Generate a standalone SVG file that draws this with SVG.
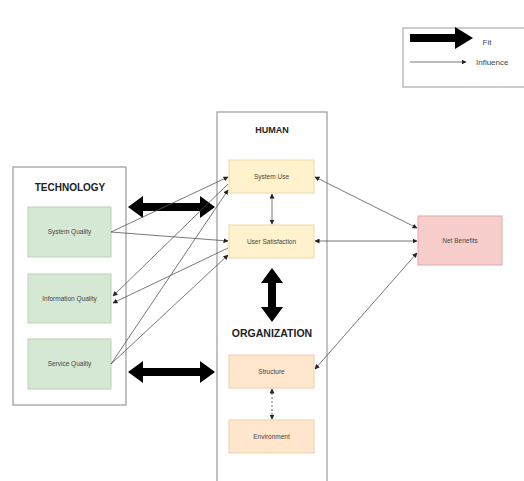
<svg xmlns="http://www.w3.org/2000/svg" width="524" height="481" viewBox="0 0 524 481">
<defs>
<marker id="ah" viewBox="0 0 10 10" refX="9" refY="5" markerWidth="5" markerHeight="5" orient="auto-start-reverse" markerUnits="userSpaceOnUse">
<path d="M0,0 L10,5 L0,10 z" fill="#222"/>
</marker>
<style>
.cont{fill:#fff;stroke:#999;stroke-width:1.2}
.tech{fill:#d5e8d4;stroke:#b9d3b4;stroke-width:1}
.hum{fill:#fff2cc;stroke:#eadba8;stroke-width:1}
.org{fill:#ffe6cc;stroke:#eccfa8;stroke-width:1}
.net{fill:#f8cecc;stroke:#dcaaa8;stroke-width:1}
.lbl{font-family:"Liberation Sans",Arial,sans-serif;font-size:6.5px;fill:#444;text-anchor:middle}
.ttl{font-family:"Liberation Sans",Arial,sans-serif;font-weight:bold;fill:#222;text-anchor:middle}
.ln{stroke:#555;stroke-width:0.8;fill:none}
.thick{fill:#000}
</style>
</defs>
<rect width="524" height="481" fill="#fff"/>

<g id="legend">
<rect x="403" y="28" width="130" height="59" fill="#fff" stroke="#999" stroke-width="1"/>
<polygon class="thick" points="410,34 455,34 455,27 473,38 455,49 455,42 410,42"/>
<text class="lbl" x="487" y="45" style="font-size:8px">Fit</text>
<line class="ln" x1="410" y1="62" x2="466" y2="62" marker-end="url(#ah)"/>
<text class="lbl" x="476" y="65" style="font-size:8px;text-anchor:start">Influence</text>
</g>

<g id="technology">
<rect class="cont" x="13" y="167" width="113" height="238"/>
<text class="ttl" x="70" y="191" font-size="10">TECHNOLOGY</text>
</g>
<g id="system-quality">
<rect class="tech" x="28" y="207" width="83" height="50"/>
<text class="lbl" x="69.5" y="234">System Quality</text>
</g>
<g id="information-quality">
<rect class="tech" x="28" y="274" width="83" height="49"/>
<text class="lbl" x="69.5" y="301">Information Quality</text>
</g>
<g id="service-quality">
<rect class="tech" x="28" y="339" width="83" height="50"/>
<text class="lbl" x="69.5" y="366">Service Quality</text>
</g>

<g id="human-organization">
<rect class="cont" x="217" y="112" width="110" height="375"/>
<text class="ttl" x="272" y="133" font-size="9">HUMAN</text>
<text class="ttl" x="272" y="337" font-size="10.5">ORGANIZATION</text>
</g>
<g id="system-use">
<rect class="hum" x="229" y="160" width="85" height="33"/>
<text class="lbl" x="271.5" y="179">System Use</text>
</g>
<g id="user-satisfaction">
<rect class="hum" x="229" y="225" width="85" height="33"/>
<text class="lbl" x="271.5" y="244">User Satisfaction</text>
</g>
<g id="structure">
<rect class="org" x="229" y="355" width="85" height="33"/>
<text class="lbl" x="271.5" y="374">Structure</text>
</g>
<g id="environment">
<rect class="org" x="229" y="420" width="85" height="33"/>
<text class="lbl" x="271.5" y="439">Environment</text>
</g>
<g id="net-benefits">
<rect class="net" x="418" y="216" width="84" height="49"/>
<text class="lbl" x="460" y="243">Net Benefits</text>
</g>

<g id="connectors">
<polygon class="thick" points="128,207 143,196 143,203 200,203 200,196 215,207 200,218 200,211 143,211 143,218"/>
<polygon class="thick" points="128,372 143,361 143,368 200,368 200,361 215,372 200,383 200,376 143,376 143,383"/>
<polygon class="thick" points="272,268 283,283 276,283 276,307 283,307 272,322 261,307 268,307 268,283 261,283"/>

<line class="ln" x1="111" y1="232" x2="228" y2="177" marker-end="url(#ah)"/>
<line class="ln" x1="111" y1="232" x2="228" y2="241" marker-end="url(#ah)"/>
<line class="ln" x1="228" y1="184" x2="113" y2="296" marker-end="url(#ah)"/>
<line class="ln" x1="228" y1="248" x2="113" y2="303" marker-end="url(#ah)"/>
<line class="ln" x1="111" y1="364" x2="228" y2="190" marker-end="url(#ah)"/>
<line class="ln" x1="111" y1="364" x2="228" y2="255" marker-end="url(#ah)"/>

<line class="ln" x1="272" y1="194" x2="272" y2="224" marker-start="url(#ah)" marker-end="url(#ah)"/>
<line class="ln" x1="272" y1="389" x2="272" y2="419" stroke-dasharray="2,2" marker-start="url(#ah)" marker-end="url(#ah)"/>

<line class="ln" x1="315" y1="177" x2="417" y2="228" marker-start="url(#ah)" marker-end="url(#ah)"/>
<line class="ln" x1="315" y1="241" x2="417" y2="241" marker-start="url(#ah)" marker-end="url(#ah)"/>
<line class="ln" x1="315" y1="369" x2="417" y2="253" marker-start="url(#ah)" marker-end="url(#ah)"/>
</g>
</svg>
